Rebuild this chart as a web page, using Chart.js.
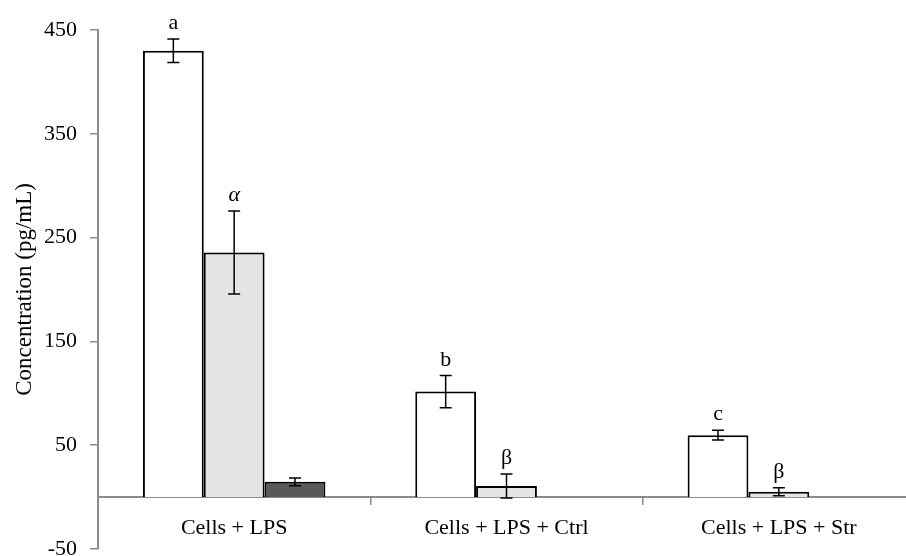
<!DOCTYPE html>
<html>
<head>
<meta charset="utf-8">
<script src="https://cdn.jsdelivr.net/npm/chart.js@4"></script>
<style>
  html, body { margin: 0; padding: 0; overflow: hidden; background: #fff; }
  canvas { display: block; }
</style>
</head>
<body>
<canvas id="cytoChart" width="915" height="575"></canvas>
<script>
// Data
const categories = ["Cells + LPS", "Cells + LPS + Ctrl", "Cells + LPS + Str"];
const whiteValues = [430, 101.5, 59.5];
const whiteErrors = [11.3, 15.5, 4.7];
const whiteLetters = ["a", "b", "c"];
const greyValues = [235.5, 10.5, 5];
const greyErrors = [40, 11.5, 3.8];
const greyLetters = ["α", "β", "β"];
const darkValues = [14.5, null, null];
const darkErrors = [3.7, null, null];
const darkLetters = ["", "", ""];
const yTicks = [-50, 50, 150, 250, 350, 450];

const serif = "'Liberation Serif', 'DejaVu Serif', serif";
const axisGrey = "#8c8c8c";

// Error bars and significance letters, drawn from the scales
const errorBars = {
  id: "errorBars",
  afterDatasetsDraw(chart) {
    const ctx = chart.ctx;
    const y = chart.scales.y;
    chart.data.datasets.forEach((ds, i) => {
      const meta = chart.getDatasetMeta(i);
      meta.data.forEach((bar, j) => {
        const v = ds.data[j];
        const e = ds.errors[j];
        if (v == null || e == null) return;
        const x = bar.x;
        const top = y.getPixelForValue(v + e);
        const bottom = y.getPixelForValue(v - e);
        ctx.save();
        ctx.strokeStyle = "#000";
        ctx.lineWidth = 1.5;
        ctx.beginPath();
        ctx.moveTo(x, top);
        ctx.lineTo(x, bottom);
        ctx.moveTo(x - 6, top);
        ctx.lineTo(x + 6, top);
        ctx.moveTo(x - 6, bottom);
        ctx.lineTo(x + 6, bottom);
        ctx.stroke();
        const letter = ds.letters[j];
        if (letter) {
          ctx.fillStyle = "#000";
          ctx.textAlign = "center";
          ctx.textBaseline = "alphabetic";
          ctx.font = (letter === "α" ? "italic " : "") + "22px " + serif;
          ctx.fillText(letter, x, top - 10);
        }
        ctx.restore();
      });
    });
  },
};

const ctx = document.getElementById("cytoChart").getContext("2d");

new Chart(ctx, {
  type: "bar",
  data: {
    labels: categories,
    datasets: [
      {
        data: whiteValues,
        errors: whiteErrors,
        letters: whiteLetters,
        backgroundColor: "#ffffff",
        borderColor: "#000",
        borderWidth: 2,
      },
      {
        data: greyValues,
        errors: greyErrors,
        letters: greyLetters,
        backgroundColor: "#e4e4e4",
        borderColor: "#000",
        borderWidth: 2,
      },
      {
        data: darkValues,
        errors: darkErrors,
        letters: darkLetters,
        backgroundColor: "#595959",
        borderColor: "#000",
        borderWidth: 2,
      },
    ],
  },
  options: {
    responsive: false,
    animation: false,
    devicePixelRatio: 1,
    barPercentage: 1,
    categoryPercentage: 0.67,
    layout: { padding: { top: 30, right: 0, bottom: 12, left: 0 } },
    plugins: {
      legend: { display: false },
      tooltip: { enabled: false },
    },
    scales: {
      x: {
        position: { y: 0 },
        grid: {
          offset: true,
          drawOnChartArea: false,
          drawTicks: true,
          tickLength: 7,
          color: axisGrey,
          lineWidth: 1.5,
        },
        border: { color: axisGrey, width: 2 },
        ticks: {
          color: "#000",
          padding: 11,
          maxRotation: 0,
          font: { family: serif, size: 22 },
        },
      },
      y: {
        min: -50,
        max: 450,
        afterBuildTicks: (scale) => {
          scale.ticks = yTicks.map((v) => ({ value: v }));
        },
        afterFit: (scale) => {
          scale.width = 98;
        },
        grid: {
          drawOnChartArea: false,
          tickLength: 8,
          color: axisGrey,
          lineWidth: 1.5,
        },
        border: { color: axisGrey, width: 2 },
        ticks: {
          color: "#000",
          padding: 13,
          font: { family: serif, size: 22 },
        },
        title: {
          display: true,
          text: "Concentration (pg/mL)",
          color: "#000",
          padding: { top: 11, bottom: 0 },
          font: { family: serif, size: 23 },
        },
      },
    },
  },
  plugins: [errorBars],
});
</script>
</body>
</html>
